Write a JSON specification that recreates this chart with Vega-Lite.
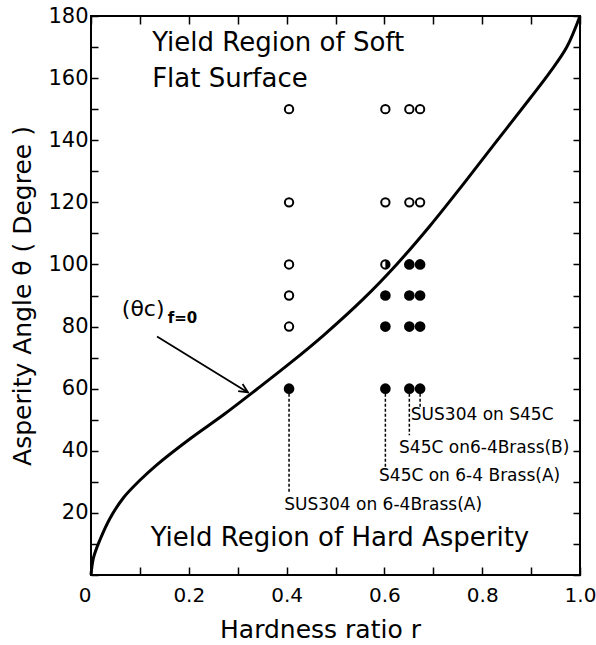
{
  "$schema": "https://vega.github.io/schema/vega-lite/v6.json",
  "width": 489,
  "height": 559,
  "autosize": "none",
  "padding": {"left": 91, "top": 16, "right": 16, "bottom": 70},
  "background": "white",
  "config": {
    "view": {"stroke": "black", "strokeWidth": 2},
    "font": "DejaVu Sans",
    "axis": {
      "domain": false,
      "grid": false,
      "tickColor": "black",
      "tickWidth": 1.5,
      "labelColor": "black",
      "titleColor": "black",
      "labelFont": "DejaVu Sans",
      "titleFont": "DejaVu Sans",
      "labelFontSize": 20,
      "titleFontSize": 25,
      "titleFontWeight": "normal",
      "labelOverlap": false,
      "labelFlush": false
    }
  },
  "resolve": {"axis": {"x": "independent", "y": "independent"}},
  "datasets": {
    "curve": [
      {"r": 0.0, "theta": 0.0},
      {"r": 0.005, "theta": 5.5},
      {"r": 0.018, "theta": 11.2},
      {"r": 0.039, "theta": 18.3},
      {"r": 0.066, "theta": 24.8},
      {"r": 0.1, "theta": 30.5},
      {"r": 0.134, "theta": 35.4},
      {"r": 0.202, "theta": 43.8},
      {"r": 0.271, "theta": 51.6},
      {"r": 0.339, "theta": 59.8},
      {"r": 0.407, "theta": 68.2},
      {"r": 0.475, "theta": 77.1},
      {"r": 0.557, "theta": 88.9},
      {"r": 0.625, "theta": 100.0},
      {"r": 0.693, "theta": 112.4},
      {"r": 0.761, "theta": 125.8},
      {"r": 0.83, "theta": 139.8},
      {"r": 0.898, "theta": 153.5},
      {"r": 0.939, "theta": 162.0},
      {"r": 0.973, "theta": 170.0},
      {"r": 1.0, "theta": 180.0}
    ],
    "points": [
      {"r": 0.405, "theta": 150, "type": "open"},
      {"r": 0.405, "theta": 120, "type": "open"},
      {"r": 0.405, "theta": 100, "type": "open"},
      {"r": 0.405, "theta": 90, "type": "open"},
      {"r": 0.405, "theta": 80, "type": "open"},
      {"r": 0.405, "theta": 60, "type": "filled"},
      {"r": 0.602, "theta": 150, "type": "open"},
      {"r": 0.602, "theta": 120, "type": "open"},
      {"r": 0.602, "theta": 100, "type": "half"},
      {"r": 0.602, "theta": 90, "type": "filled"},
      {"r": 0.602, "theta": 80, "type": "filled"},
      {"r": 0.602, "theta": 60, "type": "filled"},
      {"r": 0.651, "theta": 150, "type": "open"},
      {"r": 0.651, "theta": 120, "type": "open"},
      {"r": 0.651, "theta": 100, "type": "filled"},
      {"r": 0.651, "theta": 90, "type": "filled"},
      {"r": 0.651, "theta": 80, "type": "filled"},
      {"r": 0.651, "theta": 60, "type": "filled"},
      {"r": 0.673, "theta": 150, "type": "open"},
      {"r": 0.673, "theta": 120, "type": "open"},
      {"r": 0.673, "theta": 100, "type": "filled"},
      {"r": 0.673, "theta": 90, "type": "filled"},
      {"r": 0.673, "theta": 80, "type": "filled"},
      {"r": 0.673, "theta": 60, "type": "filled"}
    ],
    "leaders": [
      {"r": 0.405, "top": 60, "bottom": 26.4},
      {"r": 0.602, "top": 60, "bottom": 34},
      {"r": 0.651, "top": 60, "bottom": 45},
      {"r": 0.673, "top": 60, "bottom": 54}
    ],
    "arrow": [
      {"seg": "shaft", "i": 0, "r": 0.135, "theta": 76.8},
      {"seg": "shaft", "i": 1, "r": 0.321, "theta": 58.8},
      {"seg": "head", "i": 0, "r": 0.31, "theta": 61.5},
      {"seg": "head", "i": 1, "r": 0.321, "theta": 58.8},
      {"seg": "head", "i": 2, "r": 0.301, "theta": 59.2}
    ],
    "bigText": [
      {"r": 0.125, "theta": 171.3, "label": "Yield Region of Soft"},
      {"r": 0.125, "theta": 159.7, "label": "Flat Surface"},
      {"r": 0.122, "theta": 11.9, "label": "Yield Region of Hard Asperity"}
    ],
    "thetaText": [
      {"r": 0.063, "theta": 85.5, "label": "(θc)"}
    ],
    "smallText": [
      {"r": 0.395, "theta": 22.5, "label": "SUS304 on 6-4Brass(A)"},
      {"r": 0.589, "theta": 31.8, "label": "S45C on 6-4 Brass(A)"},
      {"r": 0.63, "theta": 41.0, "label": "S45C on6-4Brass(B)"},
      {"r": 0.654, "theta": 51.4, "label": "SUS304 on S45C"}
    ],
    "subText": [
      {"r": 0.157, "theta": 82.9, "label": "f=0"}
    ]
  },
  "layer": [
    {
      "data": {"name": "curve"},
      "mark": {"type": "line", "color": "black", "strokeWidth": 3, "interpolate": "catmull-rom"},
      "encoding": {
        "x": {
          "field": "r", "type": "quantitative",
          "scale": {"domain": [0, 1], "nice": false},
          "axis": {
            "orient": "bottom",
            "values": [0, 0.1, 0.2, 0.3, 0.4, 0.5, 0.6, 0.7, 0.8, 0.9, 1.0],
            "labelExpr": "datum.value == 0 ? '0' : (round(datum.value * 10) % 2 == 0 ? format(datum.value, '.1f') : '')",
            "labelAlign": {"condition": {"test": "datum.value == 0", "value": "right"}, "value": "center"},
            "tickSize": -8,
            "labelPadding": 18,
            "title": "Hardness ratio r",
            "titleX": 229,
            "titleAlign": "center",
            "titlePadding": 12
          }
        },
        "y": {
          "field": "theta", "type": "quantitative",
          "scale": {"domain": [0, 180], "nice": false},
          "axis": {
            "orient": "left",
            "values": [0, 10, 20, 30, 40, 50, 60, 70, 80, 90, 100, 110, 120, 130, 140, 150, 160, 170, 180],
            "labelExpr": "datum.value % 20 == 0 && datum.value > 0 ? datum.label : ''",
            "labelFontSize": 21,
            "tickSize": -7,
            "labelPadding": 10,
            "title": "Asperity Angle θ ( Degree )",
            "titlePadding": 12
          }
        }
      }
    },
    {
      "data": {"name": "leaders"},
      "mark": {"type": "rule", "color": "black", "strokeWidth": 1.5, "strokeDash": [3, 2]},
      "encoding": {
        "x": {"field": "r", "type": "quantitative", "axis": null},
        "y": {"field": "top", "type": "quantitative", "axis": null},
        "y2": {"field": "bottom"}
      }
    },
    {
      "data": {"name": "arrow"},
      "mark": {"type": "line", "color": "black", "strokeWidth": 1.8},
      "encoding": {
        "x": {"field": "r", "type": "quantitative", "axis": null},
        "y": {"field": "theta", "type": "quantitative", "axis": null},
        "detail": {"field": "seg"},
        "order": {"field": "i"}
      }
    },
    {
      "data": {"name": "points"},
      "transform": [{"filter": "datum.type != 'filled'"}],
      "mark": {"type": "point", "shape": "circle", "filled": false, "fill": "white", "stroke": "black", "strokeWidth": 2, "size": 70, "opacity": 1},
      "encoding": {
        "x": {
          "field": "r", "type": "quantitative",
          "axis": {"orient": "top", "values": [0, 0.1, 0.2, 0.3, 0.4, 0.5, 0.6, 0.7, 0.8, 0.9, 1.0], "labels": false, "tickSize": -8, "title": null}
        },
        "y": {
          "field": "theta", "type": "quantitative",
          "axis": {"orient": "right", "values": [0, 10, 20, 30, 40, 50, 60, 70, 80, 90, 100, 110, 120, 130, 140, 150, 160, 170, 180], "labels": false, "tickSize": -7, "title": null}
        }
      }
    },
    {
      "data": {"name": "points"},
      "transform": [{"filter": "datum.type == 'filled'"}],
      "mark": {"type": "point", "shape": "circle", "filled": true, "fill": "black", "stroke": "black", "strokeWidth": 2, "size": 75, "opacity": 1},
      "encoding": {
        "x": {"field": "r", "type": "quantitative", "axis": null},
        "y": {"field": "theta", "type": "quantitative", "axis": null}
      }
    },
    {
      "data": {"name": "points"},
      "transform": [{"filter": "datum.type == 'half'"}],
      "mark": {"type": "point", "shape": "M0,-1A1,1,0,0,1,0,1Z", "filled": true, "fill": "black", "strokeWidth": 0, "size": 70, "opacity": 1},
      "encoding": {
        "x": {"field": "r", "type": "quantitative", "axis": null},
        "y": {"field": "theta", "type": "quantitative", "axis": null}
      }
    },
    {
      "data": {"name": "bigText"},
      "mark": {"type": "text", "align": "left", "baseline": "middle", "fontSize": 26, "color": "black", "font": "DejaVu Sans"},
      "encoding": {
        "x": {"field": "r", "type": "quantitative", "axis": null},
        "y": {"field": "theta", "type": "quantitative", "axis": null},
        "text": {"field": "label"}
      }
    },
    {
      "data": {"name": "thetaText"},
      "mark": {"type": "text", "align": "left", "baseline": "middle", "fontSize": 22, "color": "black", "font": "DejaVu Sans"},
      "encoding": {
        "x": {"field": "r", "type": "quantitative", "axis": null},
        "y": {"field": "theta", "type": "quantitative", "axis": null},
        "text": {"field": "label"}
      }
    },
    {
      "data": {"name": "smallText"},
      "mark": {"type": "text", "align": "left", "baseline": "middle", "fontSize": 17, "color": "black", "font": "DejaVu Sans"},
      "encoding": {
        "x": {"field": "r", "type": "quantitative", "axis": null},
        "y": {"field": "theta", "type": "quantitative", "axis": null},
        "text": {"field": "label"}
      }
    },
    {
      "data": {"name": "subText"},
      "mark": {"type": "text", "align": "left", "baseline": "middle", "fontSize": 15, "color": "black", "font": "DejaVu Sans", "fontWeight": "bold"},
      "encoding": {
        "x": {"field": "r", "type": "quantitative", "axis": null},
        "y": {"field": "theta", "type": "quantitative", "axis": null},
        "text": {"field": "label"}
      }
    }
  ]
}
